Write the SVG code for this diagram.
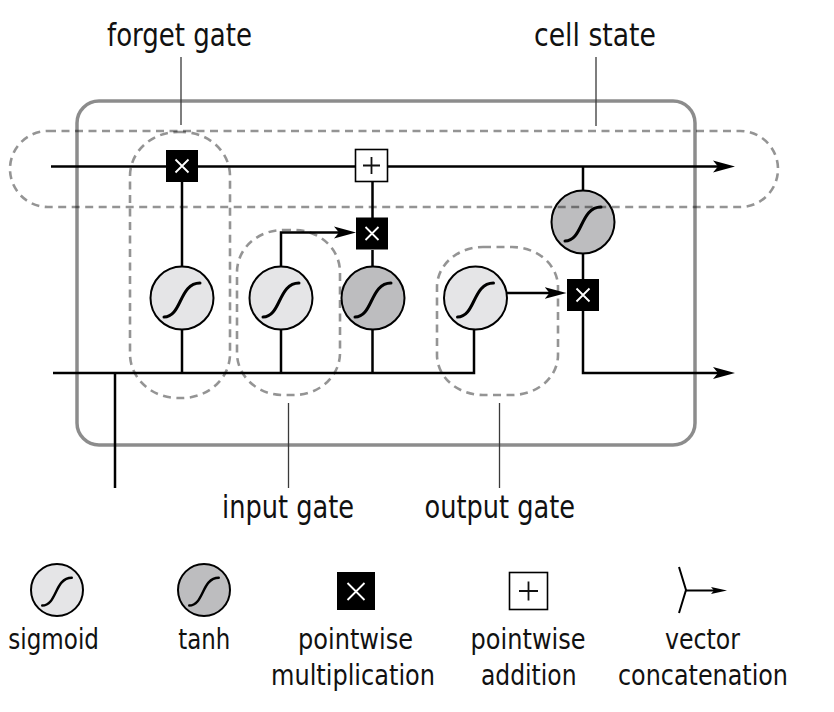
<svg xmlns="http://www.w3.org/2000/svg" width="834" height="712" viewBox="0 0 834 712">
<style>
.ln{fill:none;stroke:#000;stroke-width:2.5}
.ld{fill:none;stroke:#3a3a3a;stroke-width:1.3}
.pill{fill:none;stroke:#000;stroke-opacity:0.42;stroke-width:2.6;stroke-dasharray:8 5.5}
.frame{fill:none;stroke:#000;stroke-opacity:0.45;stroke-width:3.5}
.sig{fill:#e5e5e7;stroke:#000;stroke-width:2}
.tnh{fill:#bdbdbf;stroke:#000;stroke-width:2}
.s{fill:none;stroke:#000;stroke-width:3;stroke-linecap:round}
.mul{fill:#000}
.add{fill:#fff;stroke:#000;stroke-width:1.6}
.xm{stroke:#fff;stroke-width:1.8}
.pm{stroke:#111;stroke-width:1.8}
.t{font-family:"Liberation Sans Narrow","DejaVu Sans Condensed","Liberation Sans",sans-serif;fill:#111}
.big{font-size:32px}
.sm{font-size:28px}
</style>
<defs>
<marker id="arr" markerUnits="userSpaceOnUse" markerWidth="24" markerHeight="14" viewBox="0 0 24 14" refX="12" refY="7" orient="auto"><path d="M0,1 L22,7 L0,13 L5,7 Z" fill="#000"/></marker>
<marker id="arrs" markerUnits="userSpaceOnUse" markerWidth="16" markerHeight="8" viewBox="0 0 16 8" refX="8" refY="4" orient="auto"><path d="M0,0.5 L16,4 L0,7.5 L3,4 Z" fill="#000"/></marker>
<path id="scurve" d="M-18,19 C0,19 -3,-15 18,-15"/>
</defs>

<g id="frame">
<rect class="frame" x="77" y="101" width="618" height="344" rx="22"/>
</g>

<g id="connectors">
<path class="ln" d="M51,166.5 H725" marker-end="url(#arr)"/>
<path class="ln" d="M53,373 H474 V329"/>
<path class="ln" d="M115,373 V488"/>
<path class="ln" d="M182,182 V267 M182,329 V373"/>
<path class="ln" d="M281,329 V373"/>
<path class="ln" d="M281,267 V232.5 H346" marker-end="url(#arr)"/>
<path class="ln" d="M372.5,329 V373 M372.5,267 V250 M372.5,218 V182"/>
<path class="ln" d="M507,293 H556.5" marker-end="url(#arr)"/>
<path class="ln" d="M583,166.5 V190 M583,254 V279"/>
<path class="ln" d="M583,311 V373 H725" marker-end="url(#arr)"/>
</g>

<g id="forget-mul"><rect class="mul" x="166" y="150" width="32" height="32"/><path class="xm" d="M175.5,159.5 L188.5,172.5 M188.5,159.5 L175.5,172.5"/></g>
<g id="cell-add"><rect class="add" x="355.5" y="149.5" width="32" height="32"/><path class="pm" d="M363,165.5 H380 M371.5,157 V174"/></g>
<g id="input-mul"><rect class="mul" x="356" y="217.5" width="32" height="32"/><path class="xm" d="M365.5,227 L378.5,240 M378.5,227 L365.5,240"/></g>
<g id="output-mul"><rect class="mul" x="567" y="279" width="32" height="32"/><path class="xm" d="M576.5,288.5 L589.5,301.5 M589.5,288.5 L576.5,301.5"/></g>

<g id="forget-sigmoid" transform="translate(182,298)"><circle class="sig" r="31.5"/><use href="#scurve" class="s"/></g>
<g id="input-sigmoid" transform="translate(281,298)"><circle class="sig" r="31.5"/><use href="#scurve" class="s"/></g>
<g id="input-tanh" transform="translate(373,298)"><circle class="tnh" r="31.5"/><use href="#scurve" class="s"/></g>
<g id="output-sigmoid" transform="translate(475.5,298)"><circle class="sig" r="31.5"/><use href="#scurve" class="s"/></g>
<g id="cell-tanh" transform="translate(583,222)"><circle class="tnh" r="31.5"/><use href="#scurve" class="s"/></g>

<g id="regions">
<rect class="pill" x="10" y="131" width="768" height="76" rx="38"/>
<rect class="pill" x="130" y="132" width="100" height="266" rx="48" ry="44"/>
<rect class="pill" x="237" y="230" width="103" height="165" rx="46" ry="42"/>
<rect class="pill" x="437" y="247" width="121" height="148" rx="46" ry="40"/>
</g>

<g id="labels">
<path class="ld" d="M181,57 V125 M596,57 V126 M288.5,403 V488 M499.5,403 V488"/>
<text class="t big" x="107" y="46" textLength="145" lengthAdjust="spacingAndGlyphs">forget gate</text>
<text class="t big" x="534" y="46" textLength="122" lengthAdjust="spacingAndGlyphs">cell state</text>
<text class="t big" x="222" y="518" textLength="132" lengthAdjust="spacingAndGlyphs">input gate</text>
<text class="t big" x="424.5" y="518" textLength="150.5" lengthAdjust="spacingAndGlyphs">output gate</text>
</g>

<g id="legend-sigmoid">
<g transform="translate(57,590)"><circle class="sig" r="26"/><use href="#scurve" class="s" transform="scale(0.82)" style="stroke-width:3"/></g>
<text class="t sm" x="8.3" y="649" textLength="90.7" lengthAdjust="spacingAndGlyphs">sigmoid</text>
</g>
<g id="legend-tanh">
<g transform="translate(204,590)"><circle class="tnh" r="26"/><use href="#scurve" class="s" transform="scale(0.82)" style="stroke-width:3"/></g>
<text class="t sm" x="178.3" y="649" textLength="52" lengthAdjust="spacingAndGlyphs">tanh</text>
</g>
<g id="legend-mul">
<rect class="mul" x="337" y="572" width="38" height="38"/>
<path class="xm" d="M347.5,583 L364.5,600 M364.5,583 L347.5,600"/>
<text class="t sm" x="298" y="649" textLength="115" lengthAdjust="spacingAndGlyphs">pointwise</text>
<text class="t sm" x="271" y="685" textLength="164" lengthAdjust="spacingAndGlyphs">multiplication</text>
</g>
<g id="legend-add">
<rect class="add" x="509.5" y="572.5" width="38" height="37"/>
<path class="pm" d="M519,591 H538 M528.5,581.5 V600.5"/>
<text class="t sm" x="470.6" y="649" textLength="115" lengthAdjust="spacingAndGlyphs">pointwise</text>
<text class="t sm" x="481" y="685" textLength="95.5" lengthAdjust="spacingAndGlyphs">addition</text>
</g>
<g id="legend-concat">
<path fill="none" stroke="#000" stroke-width="2" d="M679,567 L686,590 L679,613"/>
<path fill="none" stroke="#000" stroke-width="2" d="M686,590.5 H719" marker-end="url(#arrs)"/>
<text class="t sm" x="665" y="649" textLength="75" lengthAdjust="spacingAndGlyphs">vector</text>
<text class="t sm" x="618" y="685" textLength="170" lengthAdjust="spacingAndGlyphs">concatenation</text>
</g>
</svg>
